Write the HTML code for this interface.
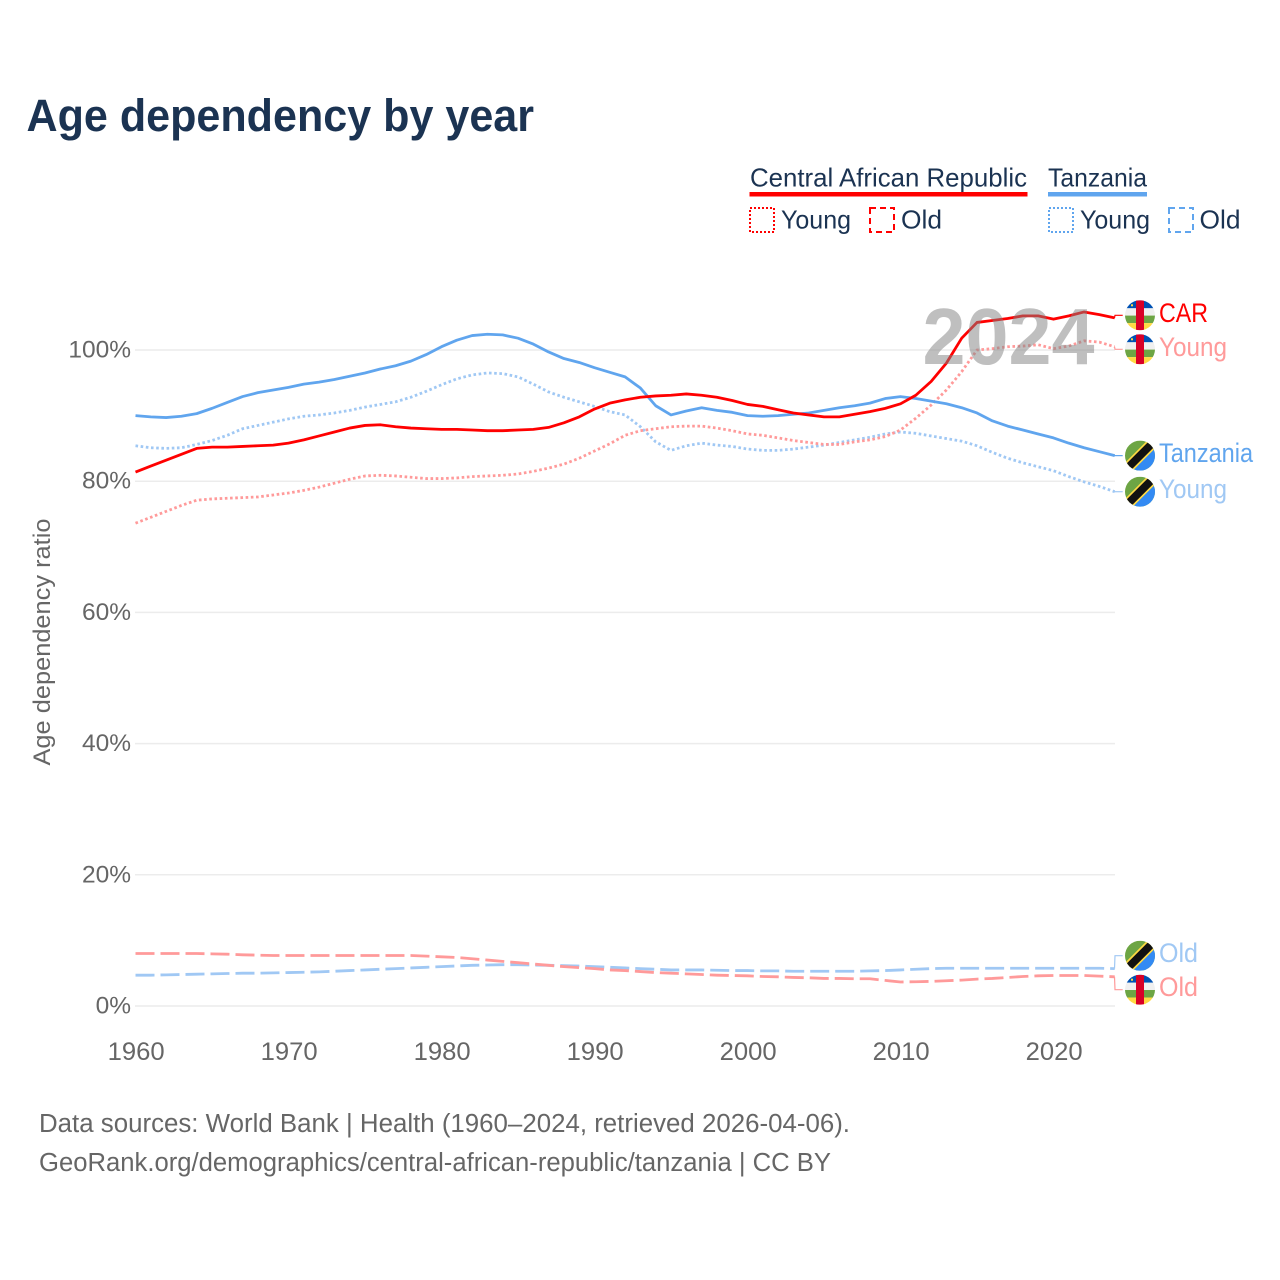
<!DOCTYPE html>
<html lang="en">
<head>
<meta charset="utf-8">
<title>Age dependency by year</title>
<style>
html,body{margin:0;padding:0;background:#fff;width:1280px;height:1280px;overflow:hidden}
svg{display:block;font-family:"Liberation Sans",sans-serif}
</style>
</head>
<body>
<svg id="chart" xmlns="http://www.w3.org/2000/svg" width="1280" height="1280" viewBox="0 0 1280 1280">
  <rect x="0" y="0" width="1280" height="1280" fill="#fff"/>
  <text x="26.5" y="131" font-size="45" font-weight="700" fill="#1b3352" textLength="507.5" lengthAdjust="spacingAndGlyphs">Age dependency by year</text>

  <g fill="#1b3352" font-size="26">
    <text x="750" y="186.5" textLength="277" lengthAdjust="spacingAndGlyphs">Central African Republic</text>
    <rect x="749.5" y="192" width="278" height="4.5" fill="#ff0000"/>
    <text x="1048" y="186.5" textLength="99" lengthAdjust="spacingAndGlyphs">Tanzania</text>
    <rect x="1048" y="192" width="99" height="4.5" fill="#60a5ee"/>

    <rect x="750" y="208" width="24" height="24" fill="none" stroke="#ff0000" stroke-width="2" stroke-dasharray="2 2"/>
    <text x="781" y="228.5" textLength="70" lengthAdjust="spacingAndGlyphs">Young</text>
    <rect x="870" y="208" width="24" height="24" fill="none" stroke="#ff0000" stroke-width="2" stroke-dasharray="6 4"/>
    <text x="901" y="228.5" textLength="41" lengthAdjust="spacingAndGlyphs">Old</text>

    <rect x="1049" y="208" width="24" height="24" fill="none" stroke="#60a5ee" stroke-width="2" stroke-dasharray="2 2"/>
    <text x="1080" y="228.5" textLength="70" lengthAdjust="spacingAndGlyphs">Young</text>
    <rect x="1169" y="208" width="24" height="24" fill="none" stroke="#60a5ee" stroke-width="2" stroke-dasharray="6 4"/>
    <text x="1199.5" y="228.5" textLength="41" lengthAdjust="spacingAndGlyphs">Old</text>
  </g>

  <g id="grid"></g>
  <g id="ticks" fill="#666" font-size="25"></g>
  <text transform="translate(50 642) rotate(-90)" text-anchor="middle" fill="#666" font-size="24" textLength="247" lengthAdjust="spacingAndGlyphs">Age dependency ratio</text>
  <g id="lines"></g>
  <text x="1094.5" y="364" text-anchor="end" font-size="80" font-weight="700" fill="rgba(128,128,128,0.5)" textLength="172" lengthAdjust="spacingAndGlyphs">2024</text>
  <g id="labels"></g>

  <g fill="#666" font-size="25.5">
    <text x="39" y="1132" textLength="811" lengthAdjust="spacingAndGlyphs">Data sources: World Bank | Health (1960–2024, retrieved 2026-04-06).</text>
    <text x="39" y="1171" textLength="792" lengthAdjust="spacingAndGlyphs">GeoRank.org/demographics/central-african-republic/tanzania | CC BY</text>
  </g>
</svg>

<script>
var years = [
  1960,1961,1962,1963,1964,1965,1966,1967,1968,1969,
  1970,1971,1972,1973,1974,1975,1976,1977,1978,1979,
  1980,1981,1982,1983,1984,1985,1986,1987,1988,1989,
  1990,1991,1992,1993,1994,1995,1996,1997,1998,1999,
  2000,2001,2002,2003,2004,2005,2006,2007,2008,2009,
  2010,2011,2012,2013,2014,2015,2016,2017,2018,2019,
  2020,2021,2022,2023,2024
];
var tanzaniaTotal = [
  90.0,89.8,89.7,89.9,90.3,91.1,92.0,92.9,93.5,93.9,
  94.3,94.8,95.1,95.5,96.0,96.5,97.1,97.6,98.3,99.3,
  100.5,101.5,102.2,102.4,102.3,101.8,100.9,99.7,98.7,98.1,
  97.3,96.6,95.9,94.2,91.5,90.1,90.7,91.2,90.8,90.5,
  90.0,89.9,90.0,90.2,90.4,90.8,91.2,91.5,91.9,92.6,
  92.9,92.6,92.2,91.8,91.2,90.4,89.2,88.4,87.8,87.2,
  86.6,85.8,85.1,84.5,83.9
];
var tanzaniaYoung = [
  85.4,85.1,85.0,85.1,85.6,86.2,87.0,88.0,88.5,89.0,
  89.5,89.9,90.1,90.4,90.8,91.3,91.7,92.1,92.8,93.7,
  94.7,95.6,96.2,96.5,96.4,95.9,94.8,93.6,92.8,92.1,
  91.4,90.6,90.1,88.3,86.0,84.7,85.4,85.8,85.5,85.3,
  84.9,84.7,84.7,84.9,85.2,85.5,85.9,86.3,86.7,87.2,
  87.5,87.3,86.9,86.5,86.1,85.4,84.4,83.5,82.8,82.2,
  81.6,80.7,79.9,79.2,78.4
];
var tanzaniaOld = [
  4.7,4.7,4.75,4.8,4.85,4.9,4.95,5.0,5.0,5.05,
  5.1,5.15,5.2,5.3,5.4,5.5,5.6,5.7,5.8,5.9,
  6.0,6.1,6.2,6.25,6.3,6.3,6.25,6.2,6.15,6.1,
  6.0,5.9,5.8,5.7,5.6,5.5,5.5,5.5,5.45,5.4,
  5.4,5.35,5.35,5.3,5.3,5.3,5.3,5.3,5.35,5.4,
  5.5,5.6,5.7,5.75,5.75,5.75,5.75,5.75,5.75,5.75,
  5.75,5.75,5.75,5.75,5.7
];
var carTotal = [
  81.4,82.3,83.2,84.1,85.0,85.2,85.2,85.3,85.4,85.5,
  85.8,86.3,86.9,87.5,88.1,88.5,88.6,88.3,88.1,88.0,
  87.9,87.9,87.8,87.7,87.7,87.8,87.9,88.2,88.9,89.8,
  91.0,91.9,92.4,92.8,93.0,93.1,93.3,93.1,92.8,92.3,
  91.7,91.4,90.9,90.4,90.1,89.8,89.8,90.2,90.6,91.1,
  91.8,93.1,95.2,98.0,101.8,104.2,104.5,104.8,105.2,105.2,
  104.7,105.2,105.8,105.4,104.9
];
var carYoung = [
  73.6,74.5,75.4,76.3,77.1,77.3,77.4,77.5,77.6,77.9,
  78.2,78.6,79.1,79.7,80.3,80.8,80.9,80.8,80.6,80.4,
  80.4,80.5,80.7,80.8,80.9,81.1,81.5,82.0,82.6,83.5,
  84.6,85.7,87.0,87.7,88.0,88.3,88.4,88.4,88.1,87.7,
  87.2,87.0,86.6,86.2,85.9,85.6,85.6,86.0,86.3,86.8,
  87.8,89.6,91.6,93.9,96.7,100.0,100.2,100.5,100.6,100.8,
  100.2,100.6,101.4,101.2,100.5
];
var carOld = [
  8.0,8.0,8.0,8.0,8.0,7.95,7.9,7.8,7.75,7.7,
  7.7,7.7,7.7,7.7,7.7,7.7,7.7,7.7,7.7,7.6,
  7.5,7.4,7.2,7.0,6.8,6.6,6.4,6.2,6.0,5.85,
  5.7,5.5,5.4,5.25,5.1,5.0,4.9,4.8,4.7,4.65,
  4.6,4.5,4.45,4.35,4.3,4.2,4.2,4.15,4.15,3.9,
  3.66,3.7,3.75,3.85,3.95,4.1,4.2,4.35,4.5,4.6,
  4.65,4.65,4.65,4.55,4.45
];
var yTicks = [0,20,40,60,80,100];
var yTickLabels = ["0%","20%","40%","60%","80%","100%"];
var xTicks = [1960,1970,1980,1990,2000,2010,2020];
var xTickLabels = ["1960","1970","1980","1990","2000","2010","2020"];

var NS = 'http://www.w3.org/2000/svg';
function xScale(year){ return 135.5 + (year - 1960) * 15.3; }
function yScale(v){ return 1006 - v * 6.56; }
function make(tag, attrs, parent){
  var el = document.createElementNS(NS, tag);
  for (var k in attrs) el.setAttribute(k, attrs[k]);
  parent.appendChild(el);
  return el;
}

var gridG = document.getElementById('grid');
var ticksG = document.getElementById('ticks');
var linesG = document.getElementById('lines');
var labelsG = document.getElementById('labels');

yTicks.forEach(function(t, i){
  var line = make('line', {x1:135, x2:1115, y1:yScale(t), y2:yScale(t), stroke:'#ececec', 'stroke-width':1.5}, gridG);
  
  
  var lab = make('text', {x:131, y:yScale(t)+7.5, 'text-anchor':'end', 'font-size':24.5}, ticksG);
  
  
  lab.textContent = yTickLabels[i];
});
xTicks.forEach(function(t, i){
  var lab = make('text', {x:xScale(t)+0.7, y:1060, 'text-anchor':'middle', textLength:57, lengthAdjust:'spacingAndGlyphs'}, ticksG);
  
  
  lab.textContent = xTickLabels[i];
});

var RED = '#ff0000', REDL = '#ff9a9a', BLUE = '#60a5ee', BLUEL = '#a0c8f4';
var DOT = '2.6 2.6', DASH = '19 6';

var seriesList = [
  {key:'tanzania-old',   values:tanzaniaOld,   color:BLUEL, dash:DASH, label:'Old',      flag:'tz', w:39},
  {key:'car-old',        values:carOld,        color:REDL,  dash:DASH, label:'Old',      flag:'cf', w:39},
  {key:'tanzania-young', values:tanzaniaYoung, color:BLUEL, dash:DOT,  label:'Young',    flag:'tz', w:68},
  {key:'car-young',      values:carYoung,      color:REDL,  dash:DOT,  label:'Young',    flag:'cf', w:68},
  {key:'tanzania-total', values:tanzaniaTotal, color:BLUE,  dash:null, label:'Tanzania', flag:'tz', w:94},
  {key:'car-total',      values:carTotal,      color:RED,   dash:null, label:'CAR',      flag:'cf', w:49}
];

seriesList.forEach(function(s){
  var d = s.values.map(function(v, i){
    return (i ? 'L' : 'M') + xScale(years[i]).toFixed(2) + ' ' + yScale(v).toFixed(2);
  }).join('');
  var attrs = {d:d, fill:'none', stroke:s.color, 'stroke-width':2.8, 'stroke-linejoin':'round'};
  if (s.dash) attrs['stroke-dasharray'] = s.dash;
  var path = make('path', attrs, linesG);
  
  
});

/* dodge end labels so they never overlap (minimum spacing 34px) */
var order = seriesList.map(function(s){
  return {s:s, end:yScale(s.values[s.values.length-1])};
}).sort(function(a,b){ return a.end - b.end; });
order.forEach(function(o){ o.y = o.end; });
for (var i = 1; i < order.length; i++) {
  var gap = order[i].y - order[i-1].y;
  if (gap < 34) {
    var mid = (order[i].y + order[i-1].y) / 2;
    order[i-1].y = mid - 17;
    order[i].y = mid + 17;
  }
}

var flagCount = 0;
function drawFlag(kind, cy){
  flagCount++;
  var id = 'flag-clip-' + flagCount;
  var defs = make('defs', {}, labelsG);
  var clip = make('clipPath', {id:id}, defs);
  make('circle', {cx:0, cy:0, r:15}, clip);
  var g = make('g', {transform:'translate(1140 ' + cy + ')', 'clip-path':'url(#' + id + ')'}, labelsG);
  
  
  if (kind === 'cf') {
    make('rect', {x:-15, y:-15, width:30, height:8, fill:'#0052b4'}, g);
    make('rect', {x:-15, y:-7, width:30, height:7.3, fill:'#f0f0f0'}, g);
    make('rect', {x:-15, y:0.3, width:30, height:7.5, fill:'#6da544'}, g);
    make('rect', {x:-15, y:7.8, width:30, height:7.2, fill:'#ffda44'}, g);
    make('rect', {x:-4, y:-15, width:8, height:30, fill:'#d80027'}, g);
    make('rect', {x:-9, y:-11, width:2, height:2, fill:'#ffda44'}, g);
  } else {
    make('rect', {x:-15, y:-15, width:30, height:30, fill:'#6da544'}, g);
    make('polygon', {points:'15,-15 15,15 -15,15', fill:'#338af3'}, g);
    make('rect', {x:-22, y:-5.6, width:44, height:11.2, fill:'#ffda44', transform:'rotate(-45)'}, g);
    make('rect', {x:-22, y:-3.9, width:44, height:7.8, fill:'#111', transform:'rotate(-45)'}, g);
  }
}

order.forEach(function(o){
  var s = o.s;
  var conn = make('path', {d:'M1114.5 ' + o.end.toFixed(2) + 'L1115 ' + o.y.toFixed(2) + 'L1122.7 ' + o.y.toFixed(2), fill:'none', stroke:s.color, 'stroke-width':1.2}, labelsG);
  
  
  drawFlag(s.flag, o.y);
  var t = make('text', {x:1159, y:o.y + 6.5, fill:s.color, 'font-size':26.5, textLength:s.w, lengthAdjust:'spacingAndGlyphs'}, labelsG);
  
  
  t.textContent = s.label;
});
</script>
</body>
</html>
